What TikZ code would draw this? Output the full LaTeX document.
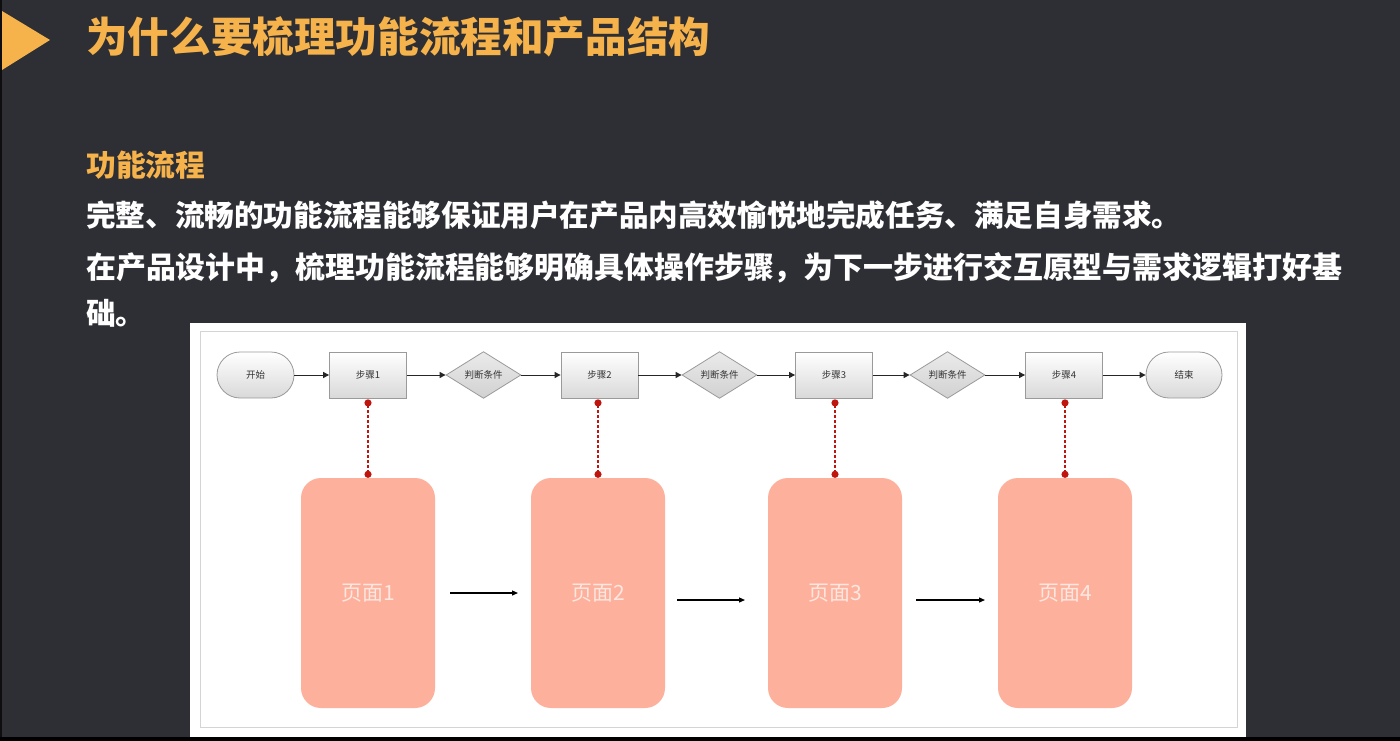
\documentclass[tikz,border=0pt]{standalone}
\usepackage{fontspec}
\newfontfamily\cjk{Noto Sans CJK SC}
\usetikzlibrary{shapes.geometric,arrows.meta}
\definecolor{bg}{HTML}{2E2F35}
\definecolor{titleor}{HTML}{F6B34C}
\definecolor{salmon}{HTML}{FDB09B}
\definecolor{pagetxt}{HTML}{FDE7E0}
\definecolor{reddot}{HTML}{C0150F}
\definecolor{nodeborder}{HTML}{9A9A9A}
\definecolor{frame}{HTML}{D4D4D4}
\tikzset{
  flowbox/.style={draw=nodeborder, line width=0.8pt, top color=white, bottom color=black!15,
    minimum width=77pt, minimum height=46pt, inner sep=0pt, text=black!80,
    font=\cjk\fontsize{9.5}{9.5}\selectfont},
  stadium/.style={flowbox, rounded corners=23pt},
  decision/.style={flowbox, diamond, minimum width=75pt, minimum height=46pt, top color=black!8, bottom color=black!18},
  flowarrow/.style={draw=black!85, line width=1pt, -{Triangle[length=6pt,width=6pt]}},
  pagebox/.style={fill=salmon, rounded corners=20pt, minimum width=134pt, minimum height=230pt,
    inner sep=0pt, text=pagetxt, font=\cjk\fontsize{21}{21}\selectfont},
  pagearrow/.style={draw=black, line width=1.2pt, -{Triangle[length=6pt,width=5pt]}},
  redlink/.style={draw=reddot, line width=2pt, dash pattern=on 3pt off 2pt,
    {Circle[length=7pt,width=7pt,fill=reddot]}-{Circle[length=7pt,width=7pt,fill=reddot]}, shorten <=1pt},
  bodytext/.style={anchor=west, inner sep=0pt, text=white, font=\cjk\bfseries\fontsize{29.6}{30}\selectfont}
}
\begin{document}
\begin{tikzpicture}[x=1pt,y=-1pt]
\useasboundingbox (0,0) rectangle (1400,741);
\fill[bg] (0,0) rectangle (1400,741);
\fill[black!70!bg] (0,0) rectangle (2,741);
\fill[black] (0,737) rectangle (1400,741);
% title
\fill[titleor] (2,11) -- (50,40) -- (2,70) -- cycle;
\node[anchor=west, inner sep=0pt, text=titleor, font=\cjk\bfseries\fontsize{41.6}{42}\selectfont] (title) at (86,37) {为什么要梳理功能流程和产品结构};
\node[anchor=west, inner sep=0pt, text=titleor, font=\cjk\bfseries\fontsize{29.8}{30}\selectfont] (sub) at (86,165) {功能流程};
\node[bodytext] (l1) at (86,215) {完整、流畅的功能流程能够保证用户在产品内高效愉悦地完成任务、满足自身需求。};
\node[bodytext, font=\cjk\bfseries\fontsize{29.9}{30}\selectfont] (l2) at (86,268) {在产品设计中，梳理功能流程能够明确具体操作步骤，为下一步进行交互原型与需求逻辑打好基};
\node[bodytext] (l3) at (86,313) {础。};
% panel
\fill[white] (190,323) rectangle (1246,737);
\draw[frame, line width=1pt] (200.5,331.5) rectangle (1237.5,727.5);
% flow row
\node[stadium, minimum width=77pt] (start) at (255.5,375) {开始};
\node[flowbox] (s1) at (368,375) {步骤1};
\node[decision] (d1) at (483.5,375) {判断条件};
\node[flowbox] (s2) at (599.5,375) {步骤2};
\node[decision] (d2) at (719.5,375) {判断条件};
\node[flowbox] (s3) at (834,375) {步骤3};
\node[decision] (d3) at (947.5,375) {判断条件};
\node[flowbox] (s4) at (1064,375) {步骤4};
\node[stadium, minimum width=76pt] (end) at (1184,375) {结束};
\draw[flowarrow] (start) -- (s1);
\draw[flowarrow] (s1) -- (d1);
\draw[flowarrow] (d1) -- (s2);
\draw[flowarrow] (s2) -- (d2);
\draw[flowarrow] (d2) -- (s3);
\draw[flowarrow] (s3) -- (d3);
\draw[flowarrow] (d3) -- (s4);
\draw[flowarrow] (s4) -- (end);
% pages
\node[pagebox] (p1) at (368,593) {页面1};
\node[pagebox] (p2) at (598,593) {页面2};
\node[pagebox] (p3) at (835,593) {页面3};
\node[pagebox] (p4) at (1065,593) {页面4};
\draw[redlink] (s1.south) -- (p1.north);
\draw[redlink] (s2.south -| p2.north) -- (p2.north);
\draw[redlink] (s3.south -| p3.north) -- (p3.north);
\draw[redlink] (s4.south -| p4.north) -- (p4.north);
\coordinate (a1) at (450,593);
\coordinate (b1) at (518,593);
\coordinate (a2) at (677,600);
\coordinate (b2) at (745,600);
\coordinate (a3) at (916,600);
\coordinate (b3) at (985,600);
\draw[pagearrow] (a1) -- (b1);
\draw[pagearrow] (a2) -- (b2);
\draw[pagearrow] (a3) -- (b3);
\end{tikzpicture}
\end{document}
